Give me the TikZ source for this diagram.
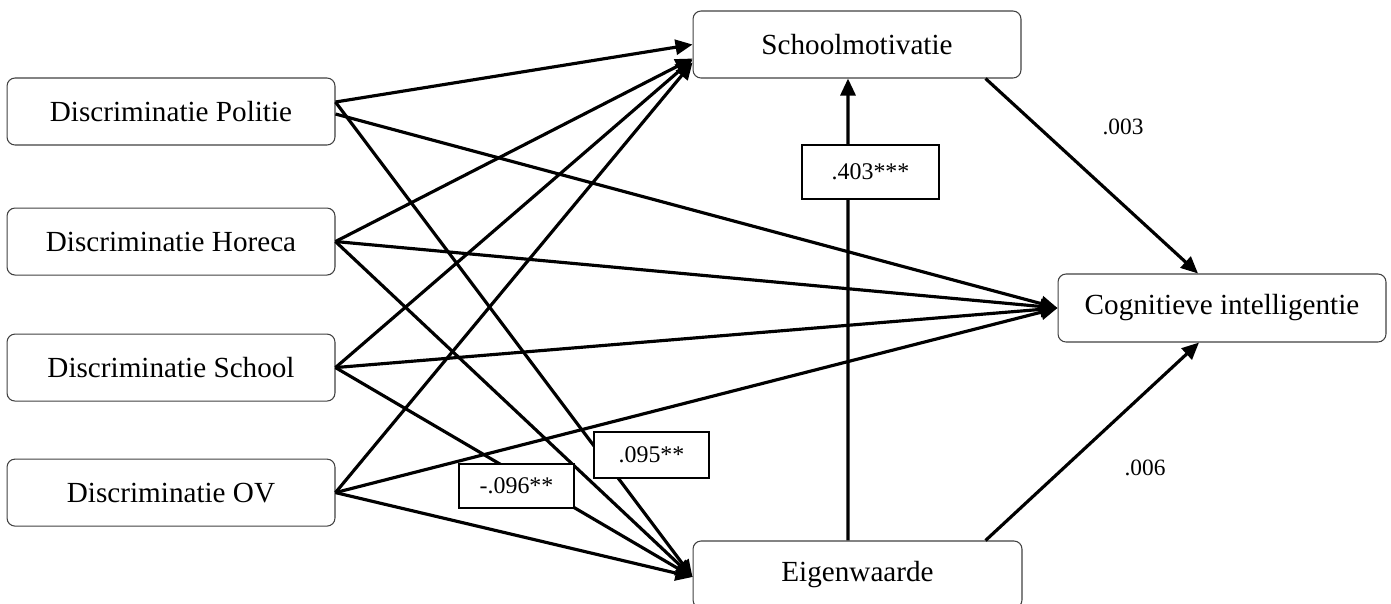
\documentclass[tikz,border=0pt]{standalone}
\usepackage{fontspec}
\setmainfont{Liberation Serif}
\usetikzlibrary{arrows.meta}
\usetikzlibrary{positioning}

\begin{document}
\begin{tikzpicture}[x=0.02cm, y=-0.02cm,
    var/.style={rectangle, rounded corners=0.16cm, draw=black!75, line width=0.6pt, minimum width=6.56cm, minimum height=1.34cm, font=\fontsize{16.6}{20}\selectfont},
    coef/.style={rectangle, draw=black, line width=1.2pt, fill=white, minimum width=2.3cm, font=\fontsize{13.6}{16}\selectfont},
    link/.style={-{Triangle[length=0.34cm, width=0.3cm]}, line width=1.8pt}]
    \useasboundingbox (0,0) rectangle (1391,603);
    \clip (0,0) rectangle (1391,603);

    \node [var] (politie) at (171,111.5) {Discriminatie Politie};
    \node [var, below=1.24cm of politie] (horeca) {Discriminatie Horeca};
    \node [var, below=1.16cm of horeca] (school) {Discriminatie School};
    \node [var, below=1.14cm of school] (ov) {Discriminatie OV};

    \node [var] (motivatie) at (857,44.5) {Schoolmotivatie};
    \node [var, minimum width=6.58cm] (eigen) at (857.5,574.5) {Eigenwaarde};
    \node [var, minimum height=1.36cm] (cogn) at (1222,308) {Cognitieve intelligentie};

    \draw [link] ([yshift=0.19cm]politie.east) -- (motivatie.west);
    \draw [link] ([yshift=-0.05cm]politie.east) -- (cogn.west);
    \draw [link] ([yshift=0.19cm]politie.east) -- ([yshift=-0.05cm]eigen.west);

    \draw [link] (horeca.east) -- ([yshift=-0.28cm]motivatie.west);
    \draw [link] (horeca.east) -- (cogn.west);
    \draw [link] (horeca.east) -- ([yshift=-0.05cm]eigen.west);

    \draw [link] (school.east) -- ([yshift=-0.3cm]motivatie.west);
    \draw [link] (school.east) -- (cogn.west);
    \draw [link] (school.east) -- ([yshift=-0.05cm]eigen.west);

    \draw [link] (ov.east) -- ([yshift=-0.36cm]motivatie.west);
    \draw [link] (ov.east) -- (cogn.west);
    \draw [link] (ov.east) -- ([yshift=-0.05cm]eigen.west);

    \draw [link] ([xshift=-0.19cm]eigen.north) -- ([xshift=-0.18cm]motivatie.south);
    \draw [link] ([xshift=-0.72cm]motivatie.south east) -- ([xshift=-0.48cm]cogn.north);
    \draw [link] ([xshift=-0.74cm]eigen.north east) -- ([xshift=-0.46cm]cogn.south);

    % coefficients
    \node [coef, minimum width=2.74cm, minimum height=1.08cm] (c403) at (870.5,172) {.403***\hspace{0.35cm}};
    \node [coef, minimum height=0.92cm] (c095) at (651.5,455) {.095**};
    \node [coef, minimum height=0.88cm] (c096) at (516.5,486) {-.096**};
    \node [font=\fontsize{13.3}{16}\selectfont] (c003) at (1123,127) {.003};
    \node [font=\fontsize{13.3}{16}\selectfont] (c006) at (1145,468) {.006};
\end{tikzpicture}
\end{document}
